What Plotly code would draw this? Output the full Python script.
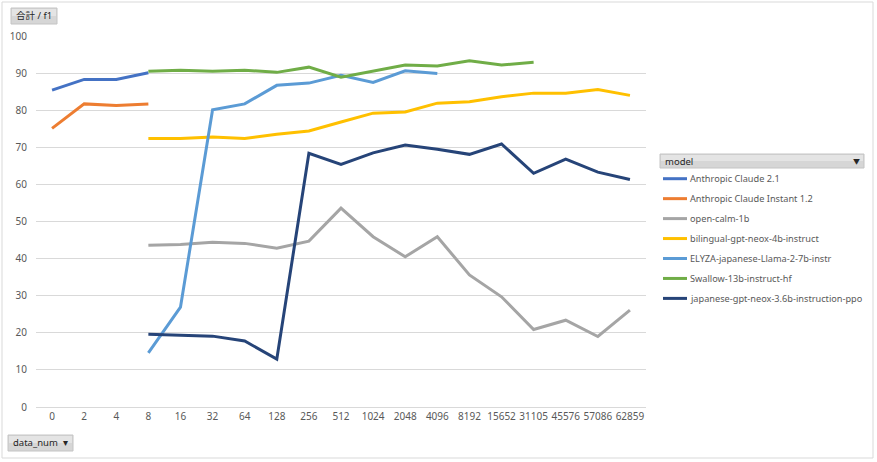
import plotly.graph_objects as go

categories = ["0", "2", "4", "8", "16", "32", "64", "128", "256", "512", "1024",
              "2048", "4096", "8192", "15652", "31105", "45576", "57086", "62859"]

N = None
claude_21 = [85.4, 88.3, 88.3, 90.1] + [N] * 15
claude_instant_12 = [75.1, 81.7, 81.3, 81.7] + [N] * 15
open_calm_1b = [N, N, N, 43.6, 43.8, 44.4, 44.1, 42.8, 44.7, 53.6, 45.9, 40.5, 45.9,
                35.6, 29.7, 20.9, 23.4, 19.0, 26.1]
bilingual_gpt_neox = [N, N, N, 72.4, 72.4, 72.8, 72.4, 73.5, 74.4, 76.8, 79.2, 79.5, 81.9,
                      82.3, 83.6, 84.6, 84.6, 85.6, 84.0]
elyza_llama2 = [N, N, N, 14.6, 26.9, 80.1, 81.7, 86.7, 87.3, 89.4, 87.5, 90.6, 89.9,
                N, N, N, N, N, N]
swallow_13b = [N, N, N, 90.5, 90.8, 90.5, 90.8, 90.2, 91.6, 88.9, 90.6, 92.2, 91.9,
               93.3, 92.2, 92.9, N, N, N]
japanese_gpt_neox = [N, N, N, 19.6, 19.4, 19.1, 17.8, 12.9, 68.4, 65.4, 68.5, 70.6, 69.5,
                     68.1, 70.9, 63.0, 66.8, 63.3, 61.3]

series_names = ["Anthropic Claude 2.1", "Anthropic Claude Instant 1.2", "open-calm-1b",
                "bilingual-gpt-neox-4b-instruct", "ELYZA-japanese-Llama-2-7b-instr",
                "Swallow-13b-instruct-hf", "japanese-gpt-neox-3.6b-instruction-ppo"]
series_values = [claude_21, claude_instant_12, open_calm_1b, bilingual_gpt_neox,
                 elyza_llama2, swallow_13b, japanese_gpt_neox]
colors = ["#4472C4", "#ED7D31", "#A5A5A5", "#FFC000", "#5B9BD5", "#70AD47", "#264478"]

y_ticks = [0, 10, 20, 30, 40, 50, 60, 70, 80, 90, 100]

W, H = 877, 462
L, R, T, B = 36, 231, 36, 55
PW, PH = W - L - R, H - T - B


def px(x):
    return (x - L) / PW


def py(y):
    return (H - B - y) / PH


FONT = "Noto Sans, Noto Sans CJK JP, sans-serif"

fig = go.Figure()
for name, vals, col in zip(series_names, series_values, colors):
    fig.add_trace(go.Scatter(x=categories, y=vals, name=name, mode="lines",
                             line=dict(color=col, width=3), connectgaps=False,
                             showlegend=False))

shapes = []
annotations = []

# outer chart border
shapes.append(dict(type="rect", xref="paper", yref="paper",
                   x0=px(2), x1=px(873), y0=py(458), y1=py(2),
                   line=dict(color="#d9d9d9", width=1), fillcolor="rgba(0,0,0,0)",
                   layer="below"))


def button(x0, y0, x1, y1):
    shapes.append(dict(type="rect", xref="paper", yref="paper",
                       x0=px(x0), x1=px(x1), y0=py(y1), y1=py(y0),
                       line=dict(color="#c4c4c4", width=1), fillcolor="#d6d6d6"))
    shapes.append(dict(type="rect", xref="paper", yref="paper",
                       x0=px(x0 + 1), x1=px(x1 - 1), y0=py((y0 + y1) / 2), y1=py(y0 + 1),
                       line=dict(width=0), fillcolor="#e4e4e4"))


# value field button
button(11, 8, 57, 24)
annotations.append(dict(text="合計 / f1", xref="paper", yref="paper", x=px(14), y=py(16),
                        xanchor="left", yanchor="middle", showarrow=False,
                        font=dict(family=FONT, size=9.5, color="#262626")))
# axis field button
button(8, 435, 73, 451)
annotations.append(dict(text="data_num  ▾", xref="paper", yref="paper", x=px(11), y=py(443),
                        xanchor="left", yanchor="middle", showarrow=False,
                        font=dict(family=FONT, size=9.5, color="#262626")))
# legend header
button(660, 154, 864, 168)
annotations.append(dict(text="model", xref="paper", yref="paper", x=px(663), y=py(161),
                        xanchor="left", yanchor="middle", showarrow=False,
                        font=dict(family=FONT, size=9.5, color="#262626")))
annotations.append(dict(text="▼", xref="paper", yref="paper", x=px(856), y=py(161),
                        xanchor="center", yanchor="middle", showarrow=False,
                        font=dict(family=FONT, size=7, color="#262626")))

# manual legend entries
for i, (name, col) in enumerate(zip(series_names, colors)):
    yy = 178.7 + i * 19.95
    shapes.append(dict(type="line", xref="paper", yref="paper",
                       x0=px(663), x1=px(687), y0=py(yy), y1=py(yy),
                       line=dict(color=col, width=3)))
    annotations.append(dict(text=name, xref="paper", yref="paper", x=px(688), y=py(yy),
                            xanchor="left", yanchor="middle", showarrow=False,
                            font=dict(family=FONT, size=9.2, color="#595959")))

fig.update_layout(
    width=W, height=H,
    margin=dict(l=L, r=R, t=T, b=B, autoexpand=False),
    paper_bgcolor="white", plot_bgcolor="white",
    shapes=shapes, annotations=annotations,
    font=dict(family=FONT, size=10, color="#595959"),
    xaxis=dict(type="category", categoryorder="array", categoryarray=categories,
               range=[-0.5, len(categories) - 0.5], showgrid=False, showline=True,
               linecolor="#d9d9d9", linewidth=1, ticks="", zeroline=False,
               tickfont=dict(family=FONT, size=10, color="#595959")),
    yaxis=dict(range=[0, 100], tickvals=y_ticks, showgrid=True, gridcolor="#d9d9d9",
               gridwidth=1, zeroline=False, showline=False, ticks="",
               ticklabelstandoff=8,
               tickfont=dict(family=FONT, size=10, color="#595959")),
)

fig.write_html("out.html", config={"displayModeBar": False},
               post_script="document.body.style.margin='0';document.body.style.overflow='hidden';")
